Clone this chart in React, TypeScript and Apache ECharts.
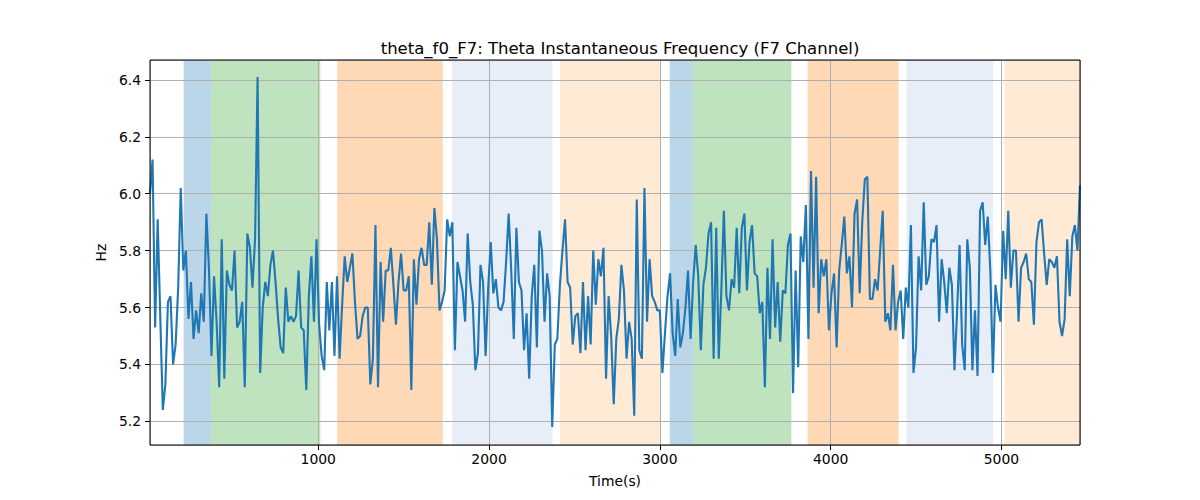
import React, { useEffect, useRef } from 'react';
import * as echarts from 'echarts';

// sample spacing of the F7 theta frequency trace, in seconds
const SAMPLE_STEP = 15;

const freqValues = [
  6.00, 6.12, 5.53, 5.91, 5.57, 5.24, 5.33, 5.62, 5.64, 5.40,
  5.47, 5.67, 6.02, 5.73, 5.80, 5.56, 5.69, 5.49, 5.59, 5.51,
  5.65, 5.55, 5.93, 5.74, 5.43, 5.71, 5.55, 5.32, 5.84, 5.35,
  5.73, 5.68, 5.66, 5.80, 5.53, 5.55, 5.62, 5.32, 5.86, 5.81,
  5.67, 5.84, 6.41, 5.37,
  5.60, 5.69, 5.64, 5.75, 5.80, 5.69, 5.56, 5.46, 5.44, 5.67,
  5.55, 5.57, 5.55, 5.57, 5.73, 5.53, 5.52, 5.31, 5.64, 5.78,
  5.55, 5.84, 5.54, 5.43, 5.38, 5.69, 5.52, 5.69, 5.43, 5.71,
  5.42, 5.61, 5.78, 5.69, 5.74, 5.79, 5.62, 5.49, 5.50, 5.57,
  5.60, 5.60, 5.33, 5.42, 5.89, 5.32, 5.76,
  5.55, 5.73, 5.73, 5.81, 5.68, 5.54, 5.69, 5.79, 5.66, 5.66,
  5.71, 5.31, 5.77, 5.61, 5.77, 5.81, 5.75, 5.75, 5.90, 5.68,
  5.95, 5.84, 5.59, 5.62, 5.66, 5.91, 5.85, 5.90, 5.45, 5.76,
  5.71, 5.66, 5.55, 5.86, 5.69, 5.61, 5.38, 5.44, 5.75, 5.69,
  5.43, 5.67, 5.83, 5.65, 5.70, 5.60, 5.59, 5.62, 5.76, 5.93,
  5.73, 5.49, 5.88, 5.69, 5.66, 5.45, 5.58, 5.35, 5.64, 5.75,
  5.46, 5.87, 5.80, 5.55, 5.72, 5.64, 5.18, 5.47, 5.49, 5.68,
  5.80, 5.91, 5.69, 5.67, 5.47, 5.57, 5.58, 5.44, 5.69, 5.45,
  5.64, 5.47, 5.80, 5.61, 5.77, 5.71, 5.81, 5.35, 5.64, 5.50,
  5.26, 5.49, 5.56, 5.75, 5.66, 5.42, 5.55,
  5.49, 5.22, 5.98, 5.45, 5.42, 6.02, 5.55, 5.77, 5.64, 5.62,
  5.59, 5.59, 5.37, 5.51, 5.64, 5.72, 5.51, 5.43, 5.63, 5.46,
  5.51, 5.60, 5.73, 5.49, 5.69, 5.82, 5.71, 5.45, 5.68, 5.74,
  5.86, 5.90, 5.42, 5.88, 5.42, 5.66, 5.94, 5.64, 5.59, 5.70,
  5.67, 5.88, 5.65, 5.88, 5.93, 5.66, 5.83,
  5.89, 5.72, 5.71, 5.58, 5.62, 5.32, 5.74, 5.49, 5.84, 5.53,
  5.69, 5.48, 5.66, 5.65, 5.82, 5.86, 5.30, 5.73, 5.39, 5.85,
  5.76, 5.96, 5.49, 6.08, 5.67, 6.06, 5.58, 5.77, 5.71, 5.77,
  5.52, 5.65, 5.72, 5.46, 5.73, 5.82, 5.92, 5.72, 5.78, 5.60,
  5.93, 5.98, 5.65, 5.90, 6.05, 6.06, 5.63,
  5.63, 5.70, 5.66, 5.80, 5.94, 5.55, 5.58, 5.52, 5.75, 5.52,
  5.62, 5.66, 5.49, 5.67, 5.60, 5.89, 5.37, 5.46, 5.78, 5.66,
  5.97, 5.68, 5.71, 5.84, 5.83, 5.89, 5.55, 5.77, 5.69, 5.58,
  5.74, 5.68, 5.38, 5.58, 5.82, 5.47, 5.38, 5.84, 5.74, 5.38,
  5.59, 5.36, 5.94, 5.97, 5.82, 5.92,
  5.73, 5.37, 5.68, 5.60, 5.55, 5.87, 5.70, 5.94, 5.67, 5.80,
  5.80, 5.55, 5.74, 5.76, 5.79, 5.70, 5.69, 5.54, 5.83, 5.90,
  5.91, 5.79, 5.68, 5.77, 5.76, 5.74, 5.78, 5.55, 5.50, 5.56,
  5.84, 5.64, 5.85, 5.89, 5.80, 6.03,
];

const sampleTimes = freqValues.map((_, i) => (i + 1) * SAMPLE_STEP);

// shaded stage intervals (seconds)
const bandStarts = [212, 372, 1111, 1784, 2415, 3058, 3195, 3865, 4445, 5017];
const bandEnds = [372, 1012, 1729, 2372, 3000, 3195, 3770, 4398, 4951, 5460];
const bandColors = [
  'rgba(31,119,180,0.3)',
  'rgba(44,160,44,0.3)',
  'rgba(255,127,14,0.3)',
  'rgba(174,199,232,0.3)',
  'rgba(255,187,120,0.3)',
  'rgba(31,119,180,0.3)',
  'rgba(44,160,44,0.3)',
  'rgba(255,127,14,0.3)',
  'rgba(174,199,232,0.3)',
  'rgba(255,187,120,0.3)',
];

const X_MIN = 15;
const X_MAX = 5460;
const Y_MIN = 5.117;
const Y_MAX = 6.47;

const FONT = 'DejaVu Sans';

export default function App() {
  const chartRef = useRef<HTMLDivElement>(null);

  useEffect(() => {
    if (!chartRef.current) return;
    document.body.style.margin = '0';

    const myChart = echarts.init(chartRef.current, null, { renderer: 'svg' });

    const option = {
      animation: false,
      title: {
        text: 'theta_f0_F7: Theta Instantaneous Frequency (F7 Channel)',
        left: 615,
        top: 35,
        textAlign: 'center',
        textStyle: { fontFamily: FONT, fontSize: 16.5, fontWeight: 'normal', color: '#000' },
      },
      grid: {
        left: 150,
        top: 60,
        width: 930,
        height: 385,
        show: true,
        z: 3,
        borderColor: '#000',
        borderWidth: 1,
        backgroundColor: 'transparent',
      },
      xAxis: {
        type: 'value',
        min: X_MIN,
        max: X_MAX,
        splitNumber: 5,
        z: 1.5,
        name: 'Time(s)',
        nameLocation: 'middle',
        nameGap: 29,
        nameTextStyle: { fontFamily: FONT, fontSize: 13.9, color: '#000' },
        axisLine: { show: false },
        axisTick: { show: true, length: 5, lineStyle: { color: '#000' } },
        axisLabel: {
          fontFamily: FONT,
          fontSize: 13.9,
          color: '#000',
          margin: 7,
          showMinLabel: false,
          showMaxLabel: false,
          formatter: (v: number) => String(Math.round(v)),
        },
        splitLine: { show: true, lineStyle: { color: '#b0b0b0', width: 1 } },
      },
      yAxis: {
        type: 'value',
        min: Y_MIN,
        max: Y_MAX,
        splitNumber: 7,
        z: 1.5,
        name: 'Hz',
        nameLocation: 'middle',
        nameGap: 38,
        nameTextStyle: { fontFamily: FONT, fontSize: 13.9, color: '#000' },
        axisLine: { show: false },
        axisTick: { show: true, length: 5, lineStyle: { color: '#000' } },
        axisLabel: {
          fontFamily: FONT,
          fontSize: 13.9,
          color: '#000',
          margin: 9,
          showMinLabel: false,
          showMaxLabel: false,
          formatter: (v: number) => v.toFixed(1),
        },
        splitLine: { show: true, lineStyle: { color: '#b0b0b0', width: 1 } },
      },
      series: [
        {
          type: 'custom',
          z: 1,
          clip: true,
          silent: true,
          data: bandStarts.map((s, i) => [s, bandEnds[i]]),
          renderItem: (params: any, api: any) => {
            const cs = params.coordSys;
            const x0 = api.coord([api.value(0), Y_MIN])[0];
            const x1 = api.coord([api.value(1), Y_MIN])[0];
            return {
              type: 'rect',
              shape: { x: x0, y: cs.y, width: x1 - x0, height: cs.height },
              style: { fill: bandColors[params.dataIndex] },
            };
          },
        },
        {
          type: 'line',
          z: 2,
          data: sampleTimes.map((t, i) => [t, freqValues[i]]),
          showSymbol: false,
          symbol: 'none',
          lineStyle: { color: '#1f77b4', width: 2.1 },
          itemStyle: { color: '#1f77b4' },
        },
      ],
    };

    myChart.setOption(option);

    return () => {
      myChart.dispose();
    };
  }, []);

  return <div ref={chartRef} style={{ width: '1200px', height: '500px' }} />;
}
